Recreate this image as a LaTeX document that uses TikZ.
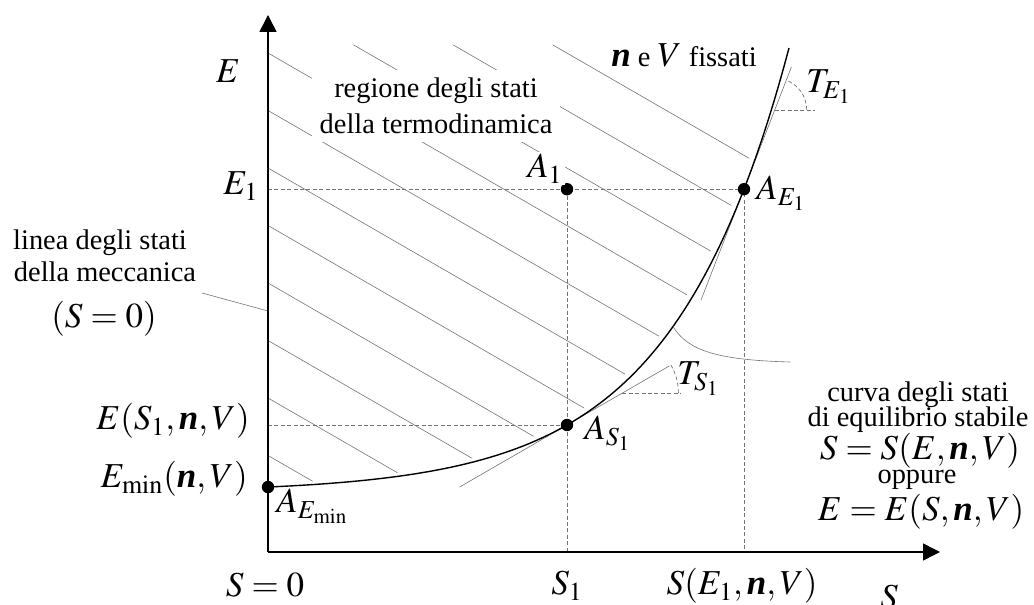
\documentclass[tikz,border=0pt]{standalone}
\usepackage{mathptmx}
\usepackage{fontspec}
\setmainfont{Liberation Serif}
\usetikzlibrary{arrows.meta}
\newcommand{\bn}{\textbf{\textit{n}}}
\newcommand{\fE}[1]{112.65+5.35*exp(0.0085*(#1-269))}

\begin{document}
\begin{tikzpicture}[x=0.5pt, y=0.5pt, >={Triangle[length=8.5pt, width=8.5pt]},
  axis/.style={line width=0.75pt, ->},
  hatch/.style={line width=0.3pt, black!55},
  guide/.style={line width=0.35pt, black!55, dash pattern=on 2pt off 1.2pt},
  leader/.style={line width=0.3pt, black!55},
  dot/.style={circle, fill, inner sep=0pt, minimum size=6.2pt},
  txt/.style={inner sep=0pt, font=\fontsize{14.2}{16}\selectfont},
  sym/.style={inner sep=0pt, font=\fontsize{17.5}{20}\selectfont}]
  \useasboundingbox (0,0) rectangle (1034,605);
  \coordinate (O) at (268,53);
  \coordinate (Etop) at (268,590);
  \coordinate (Send) at (940,53);
  \coordinate (pEmin) at (268,{\fE{268}});
  \coordinate (pS1) at (567,{\fE{567}});
  \coordinate (pE1) at (744,{\fE{744}});
  \coordinate (pA1) at (567,{\fE{744}});

  \begin{scope}
    \clip (268,121) -- plot[domain=273:789, samples=60] ({\x-5}, {\fE{\x}+3}) -- (268,560) -- cycle;
    \foreach \k in {-3,...,7}
      \draw[hatch] (268,{552-57.5*\k}) -- ++(600,-346.4);
  \end{scope}

  \node[fill=white, inner sep=4pt, align=center, font=\fontsize{14.2}{18}\selectfont] (reg) at (436,499) {regione degli stati\\della termodinamica};
  \node[txt, fill=white, inner sep=2pt, anchor=base] (fix) at (684,538) {{\fontsize{17.5}{20}\selectfont\bn} e {\fontsize{17.5}{20}\selectfont$V$} fissati};

  \draw[guide] (O |- pE1) -- (pE1) -- (pE1 |- O);
  \draw[guide] (pA1) -- (pA1 |- O);
  \draw[guide] (O |- pS1) -- (pS1);

  \draw[hatch] (pS1) ++(210:124) -- ++(30:242);
  \path (pS1) ++(30:64) coordinate (cS);
  \draw[guide] (cS) -- ++(58,0);
  \draw[guide] (cS) ++(56,0) arc[start angle=0, end angle=30, radius=28pt];
  \draw[hatch] (pE1) ++(248.8:119) -- ++(68.8:250);
  \path (pE1) ++(68.8:85) coordinate (cE);
  \draw[guide] (cE) -- ++(40,0);
  \draw[guide] (cE) ++(32,0) arc[start angle=0, end angle=68.8, radius=16pt];

  \draw[line width=0.7pt] plot[domain=268:789, samples=100] (\x, {\fE{\x}});

  \coordinate (mAx) at (268,294);
  \coordinate (mL) at (202,312);
  \draw[leader] (mL) -- (mAx);
  \coordinate (cK) at (673,{\fE{673}});
  \coordinate (cR) at (790,243);
  \draw[leader] (cK) .. controls (688,254) and (718,245) .. (cR);

  \draw[axis] (O) -- (Etop);
  \draw[axis] (O) -- (Send);

  \foreach \p in {pEmin, pS1, pE1, pA1}
    \node[dot] (d\p) at (\p) {};

  \node[sym, anchor=base] (lE) at (228,522) {$E$};
  \node[sym, anchor=base] (lE1) at (241,410) {$E_1$};
  \node[sym, anchor=base east] (lES1) at (250,175) {$E(S_1,\bn,V)$};
  \node[sym, anchor=base east] (lEmin) at (248,117) {$E_{\min}(\bn,V)$};
  \node[sym, anchor=base west] (lAmin) at (276,92) {$A_{E_{\min}}$};
  \node[sym, anchor=base west] (lAS1) at (584,165) {$A_{S_1}$};
  \node[sym, anchor=base west] (lAE1) at (756,405) {$A_{E_1}$};
  \node[sym, anchor=base, fill=white, inner sep=1pt] (lA1) at (545,427) {$A_1$};
  \node[sym, anchor=base west] (lTS1) at (677,220) {$T_{S_1}$};
  \node[sym, anchor=base west] (lTE1) at (806,512) {$T_{E_1}$};
  \node[sym, anchor=base] (lS0) at (265,8) {$S=0$};
  \node[sym, anchor=base] (lS1) at (567,10) {$S_1$};
  \node[sym, anchor=base] (lSE1) at (742,10) {$S(E_1,\bn,V)$};
  \node[sym, anchor=base] (lS) at (889,-4) {$S$};

  \node[txt, anchor=base] (lin1) at (100,355) {linea degli stati};
  \node[txt, anchor=base] (lin2) at (105,323) {della meccanica};
  \node[sym, anchor=base] (lin3) at (104,277) {$(S=0)$};

  \node[txt, anchor=base] (cur1) at (918,203) {curva degli stati};
  \node[txt, anchor=base] (cur2) at (918,178) {di equilibrio stabile};
  \node[sym, anchor=base] (cur3) at (920,145) {$S=S(E,\bn,V)$};
  \node[txt, anchor=base] (cur4) at (917,121) {oppure};
  \node[sym, anchor=base] (cur5) at (921,84) {$E=E(S,\bn,V)$};
\end{tikzpicture}
\end{document}
